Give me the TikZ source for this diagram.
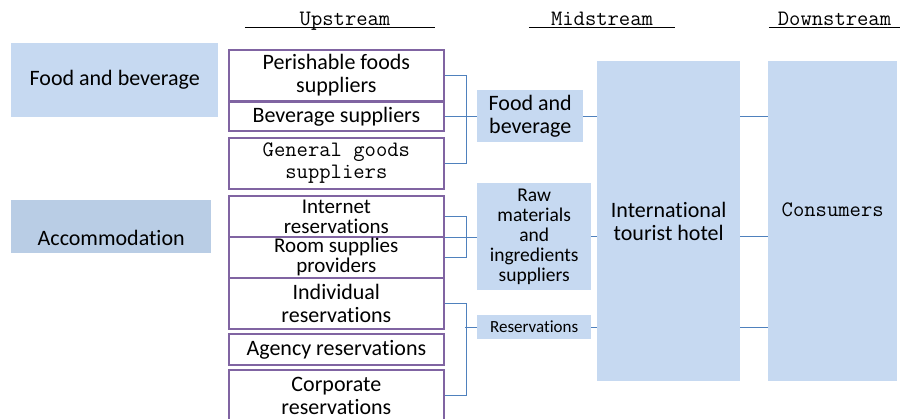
\documentclass[tikz,border=0pt]{standalone}
\usepackage{fontspec}
\setmainfont{Carlito}[Ligatures=NoCommon]
\usetikzlibrary{positioning}

\definecolor{stagefill}{HTML}{C6D9F1}
\definecolor{stagedark}{HTML}{B9CDE5}
\definecolor{linkblue}{HTML}{4F81BD}
\definecolor{boxpurple}{HTML}{8064A2}

\newcommand{\stagefont}{\fontsize{22}{23.5}\selectfont}
\newcommand{\serifmono}{\ttfamily\fontsize{22}{22}\selectfont}

\tikzset{
    stage/.style={fill=stagefill, anchor=north west, inner sep=0pt, align=center, font=\stagefont},
    supplier/.style={draw=boxpurple, line width=1.7pt, fill=white, anchor=north west,
        minimum width=215pt, inner sep=0pt, align=center, font=\stagefont},
    link/.style={draw=linkblue, line width=1pt},
    heading/.style={font=\serifmono, inner sep=0pt, anchor=base},
    rule/.style={draw=black, line width=1pt}
}

\begin{document}
\begin{tikzpicture}[x=1pt, y=-1pt]
    \useasboundingbox (0,0) rectangle (900,419);

    % Column headings with their rules
    \node[heading, minimum width=190pt] (upstream) at (340,26) {\hspace*{10pt}Upstream};
    \node[heading, minimum width=146pt] (midstream) at (602,26) {Midstream};
    \node[heading, minimum width=131pt] (downstream) at (834.5,26) {Downstream};
    \foreach \col in {upstream, midstream, downstream}
        \draw[rule] ([yshift=-2pt]\col.base west) -- ([yshift=-2pt]\col.base east);

    % Business areas on the left
    \node[stage, minimum width=207pt, minimum height=74pt] (foodbev) at (11,43) {Food and beverage};
    \node[stage, fill=stagedark, minimum width=200pt, minimum height=53pt,
        label={[font=\stagefont, yshift=-11pt]center:Accommodation}] (accom) at (11,200) {};

    % Upstream suppliers and channels
    \node[supplier, minimum height=51pt] (perish) at (228,49) {Perishable foods\\suppliers};
    \node[supplier, minimum height=29pt] (bev) at (228,101) {Beverage suppliers};
    \node[supplier, minimum height=51pt, font=\serifmono] (general) at (228,137) {General goods\\suppliers};
    \node[supplier, minimum height=41pt, font=\fontsize{21}{20}\selectfont] (internet) at (228,195) {Internet\\reservations};
    \node[supplier, minimum height=41pt, font=\fontsize{21}{20}\selectfont] (room) at (228,236) {Room supplies\\providers};
    \node[supplier, minimum height=51pt] (individual) at (228,277) {Individual\\reservations};
    \node[supplier, minimum height=31pt] (agency) at (228,333) {Agency reservations};
    \node[supplier, minimum height=52pt] (corporate) at (228,369) {Corporate\\reservations};

    % Midstream groups
    \node[stage, minimum width=106pt, minimum height=52pt] (fbmid) at (477,90) {Food and\\beverage};
    \node[stage, minimum width=114pt, minimum height=107pt, font=\fontsize{19.5}{20}\selectfont] (raw) at (477,183)
        {Raw\\materials\\and\\ingredients\\suppliers};
    \node[stage, minimum width=114pt, minimum height=24pt, font=\fontsize{17}{18}\selectfont] (resv) at (477,315) {Reservations};
    \node[stage, minimum width=143pt, minimum height=320pt] (hotel) at (597,61) {International\\tourist hotel};

    % Downstream
    \node[stage, minimum width=129pt, minimum height=320pt,
        label={[font=\serifmono, yshift=11pt]center:Consumers}] (consumers) at (768,61) {};

    % Brackets joining the suppliers
    \draw[link] (perish.east) -- ++(22,0) |- (general.east);
    \draw[link] (bev.east) -- (bev.east -| fbmid.west);
    \draw[link] (internet.east) -- ++(22,0) |- (room.east);
    \draw[link] (internet.south east) -- (internet.south east -| raw.west);
    \draw[link] (individual.east) -- ++(22,0) |- (corporate.east);
    \draw[link] (resv.west) -- ++(-12,0);

    % Midstream into the hotel, hotel out to consumers
    \foreach \grp in {fbmid, raw, resv} {
        \draw[link] (\grp.east) -- (\grp.east -| hotel.west);
        \draw[link] (hotel.east |- \grp.east) -- (consumers.west |- \grp.east);
    }
\end{tikzpicture}
\end{document}
